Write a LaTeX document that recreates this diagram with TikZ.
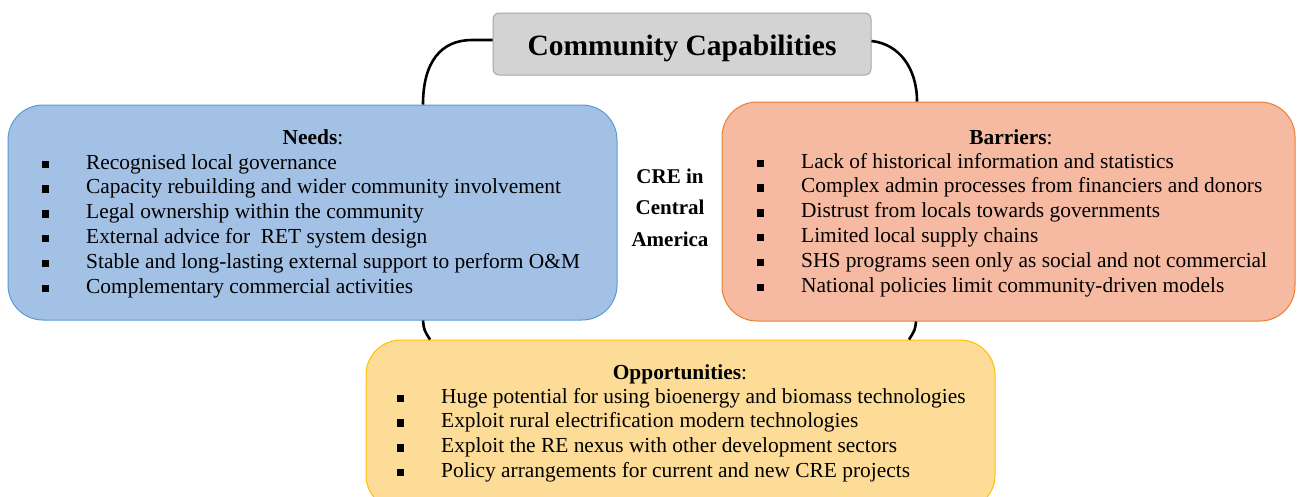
\documentclass[tikz,border=0pt]{standalone}
\usepackage{fontspec}
\setmainfont{Liberation Serif}
\usetikzlibrary{calc}
\definecolor{titlefill}{HTML}{D3D3D3}
\definecolor{titledraw}{HTML}{A8A8A8}
\definecolor{needsfill}{HTML}{A3C1E5}
\definecolor{needsdraw}{HTML}{5B9BD5}
\definecolor{barfill}{HTML}{F5BAA1}
\definecolor{bardraw}{HTML}{ED7D31}
\definecolor{oppfill}{HTML}{FDDC98}
\definecolor{oppdraw}{HTML}{FFC000}
\tikzset{
  bigbox/.style={line width=1pt, rounded corners=35pt, inner sep=0pt},
  conn/.style={draw=black, line width=2.6pt},
  headtext/.style={font=\fontsize{21.4}{24.8}\selectfont, anchor=base, inner sep=0pt},
  itemtext/.style={font=\fontsize{21.4}{24.8}\selectfont, anchor=base west, inner sep=0pt},
}
\newcommand{\sqb}{\raisebox{1pt}{\rule{6.5pt}{7.5pt}}}
\newcommand{\itemlist}[1]{\begin{tabular}[t]{@{}p{44pt}@{}l@{}}#1\end{tabular}}
\begin{document}
\begin{tikzpicture}[x=1pt,y=-1pt]
\useasboundingbox (0,0) rectangle (1297,496);
% boxes
\node[bigbox, draw=titledraw, fill=titlefill, rounded corners=6pt, minimum width=378pt, minimum height=62pt] (title) at (682,44) {};
\node[bigbox, draw=needsdraw, fill=needsfill, minimum width=609pt, minimum height=215pt] (needs) at (312.5,212.5) {};
\node[bigbox, draw=bardraw, fill=barfill, minimum width=573pt, minimum height=219pt] (barriers) at (1008.5,211.5) {};
\node[bigbox, draw=oppdraw, fill=oppfill, minimum width=629pt, minimum height=170pt] (opp) at (680.5,425) {};
% connectors
\draw[conn] ([yshift=4pt]title.west) -- (472,40) .. controls (441,40) and (423,62) .. (423,0 |- needs.north);
\draw[conn] ([yshift=3pt]title.east) .. controls (899,44) and (917,68) .. (917,0 |- barriers.north);
\draw[conn] (423,0 |- needs.south) .. controls (424,330) .. (430,0 |- opp.north);
\draw[conn] (916,0 |- barriers.south) .. controls (915,330) .. (909,0 |- opp.north);
% texts
\node[inner sep=0pt, anchor=base, font=\fontsize{29.5}{34}\selectfont\bfseries] (titletext) at (682,55) {Community Capabilities};
\node[inner sep=0pt, anchor=base, font=\fontsize{21}{31.5}\selectfont\bfseries] (cre) at (670,183) {\begin{tabular}[t]{@{}c@{}}CRE in\\Central\\America\end{tabular}};
\node[headtext] (needshead) at (313,144) {\textbf{Needs}:};
\node[itemtext] (needsitems) at (42,169) {\itemlist{
\sqb & Recognised local governance\\
\sqb & Capacity rebuilding and wider community involvement\\
\sqb & Legal ownership within the community\\
\sqb & External advice for\ \ RET system design\\
\sqb & Stable and long-lasting external support to perform O\&M\\
\sqb & Complementary commercial activities}};
\node[headtext] (barhead) at (1011,144) {\textbf{Barriers}:};
\node[itemtext] (baritems) at (757,168) {\itemlist{
\sqb & Lack of historical information and statistics\\
\sqb & Complex admin processes from financiers and donors\\
\sqb & Distrust from locals towards governments\\
\sqb & Limited local supply chains\\
\sqb & SHS programs seen only as social and not commercial\\
\sqb & National policies limit community-driven models}};
\node[headtext] (opphead) at (680,379) {\textbf{Opportunities}:};
\node[itemtext] (oppitems) at (397,403) {\itemlist{
\sqb & Huge potential for using bioenergy and biomass technologies\\
\sqb & Exploit rural electrification modern technologies\\
\sqb & Exploit the RE nexus with other development sectors\\
\sqb & Policy arrangements for current and new CRE projects}};
\end{tikzpicture}
\end{document}
